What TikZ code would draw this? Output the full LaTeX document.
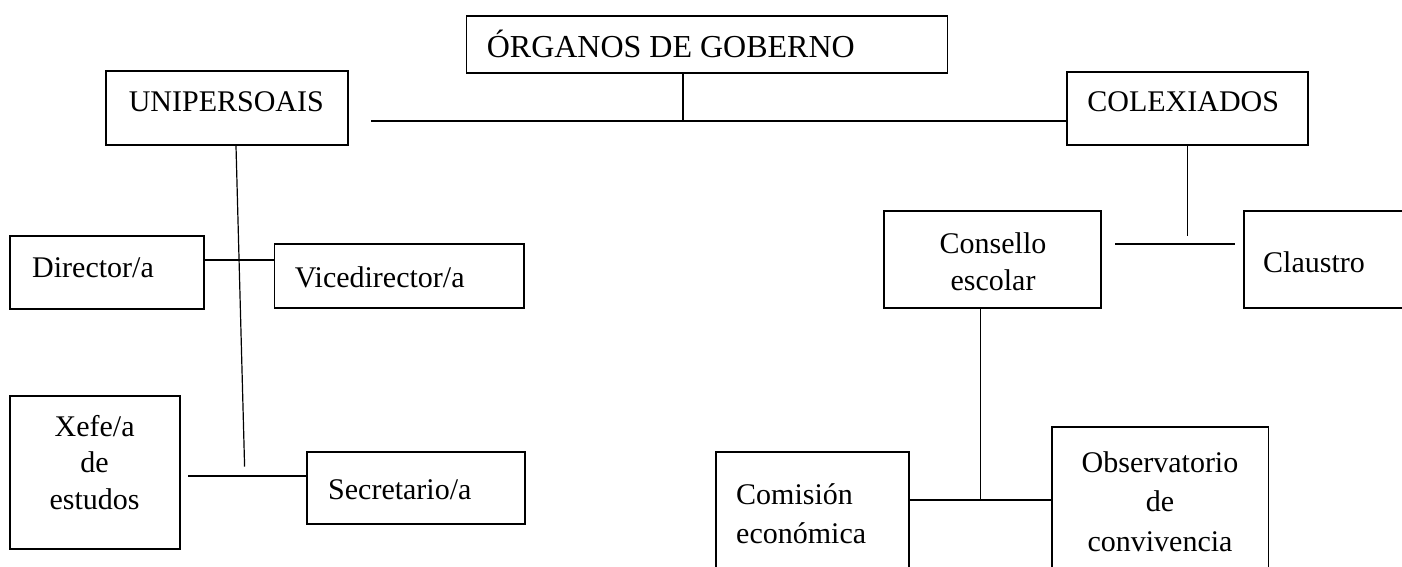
\documentclass[tikz,border=0pt]{standalone}
\usepackage{fontspec}
\setmainfont{Liberation Serif}
\begin{document}
\begin{tikzpicture}[x=1pt,y=-1pt,
  box/.style={draw, line width=1.8pt, rectangle, inner sep=0pt},
  conn/.style={line width=1.7pt},
  thinconn/.style={line width=1.2pt},
  txt/.style={inner sep=0pt, font=\fontsize{30}{36}\selectfont},
  bigtxt/.style={inner sep=0pt, font=\fontsize{32}{38}\selectfont}]
\useasboundingbox (0,0) rectangle (1402,567);
\clip (0,0) rectangle (1402,567);
\fill[white] (0,0) rectangle (1402,567);

% boxes
\node[box, minimum width=481pt, minimum height=57pt] (organos) at (707,44.2) {};
\node[box, minimum width=242pt, minimum height=74pt] (uni) at (227,108) {};
\node[box, minimum width=241pt, minimum height=73.3pt] (col) at (1187.5,108.3) {};
\node[box, minimum width=194pt, minimum height=73pt] (dir) at (107,272.5) {};
\node[box, minimum width=249.2pt, minimum height=63.7pt] (vice) at (399.1,275.9) {};
\node[box, minimum width=170pt, minimum height=152.7pt] (xefe) at (95,472.4) {};
\node[box, minimum width=217.6pt, minimum height=72pt] (sec) at (415.8,487.7) {};
\node[box, minimum width=216.6pt, minimum height=97pt] (cons) at (992.3,259.2) {};
\node[box, minimum width=196pt, minimum height=97pt] (claus) at (1342,259.2) {};
\node[box, minimum width=192.6pt, minimum height=148.3pt] (com) at (812.3,525.85) {};
\node[box, minimum width=216.7pt, minimum height=173pt] (obs) at (1160.15,513.5) {};

% texts
\node[bigtxt, anchor=base west] (organosT) at (486.6,57.3) {ÓRGANOS DE GOBERNO};
\node[txt, anchor=base west] (uniT) at (128.6,111.7) {UNIPERSOAIS};
\node[txt, anchor=base west] (colT) at (1087.2,111.7) {COLEXIADOS};
\node[txt, anchor=base west] (dirT) at (32,277.3) {Director/a};
\node[txt, anchor=base west] (viceT) at (294.6,287.3) {Vicedirector/a};
\node[txt, anchor=base] (xefeT1) at (94.6,436.7) {Xefe/a};
\node[txt, anchor=base] (xefeT2) at (94.6,472.7) {de};
\node[txt, anchor=base] (xefeT3) at (94.6,509.3) {estudos};
\node[txt, anchor=base west] (secT) at (328,499.3) {Secretario/a};
\node[txt, anchor=base] (consT1) at (993,253.3) {Consello};
\node[txt, anchor=base] (consT2) at (993,290) {escolar};
\node[txt, anchor=base west] (clausT) at (1263,272.7) {Claustro};
\node[txt, anchor=base west] (comT1) at (736,504) {Comisión};
\node[txt, anchor=base west] (comT2) at (736,543.3) {económica};
\node[txt, anchor=base] (obsT1) at (1160,472.3) {Observatorio};
\node[txt, anchor=base] (obsT2) at (1160,511.7) {de};
\node[txt, anchor=base] (obsT3) at (1160,551) {convivencia};

% connector points
\coordinate (j1) at (683,120.7);
\coordinate (hL) at (371,120.7);
\coordinate (uend) at (244.6,466.7);
\coordinate (dv) at (0,260);
\coordinate (xs) at (188,475.7);
\coordinate (cb) at (1187.5,236);
\coordinate (cc1) at (1115,244.3);
\coordinate (cc2) at (1235,244.3);
\coordinate (cj) at (980.7,499.7);

% connectors
\draw[thinconn] (j1 |- organos.south) -- (j1);
\draw[conn] (hL) -- (hL -| col.west);
\draw[thinconn] ([xshift=9pt]uni.south) -- (uend);
\draw[conn] (dir.east |- dv) -- (vice.west |- dv);
\draw[conn] (xs) -- (xs -| sec.west);
\draw[thinconn] (col.south) -- (cb);
\draw[conn] (cc1) -- (cc2);
\draw[thinconn] (cj |- cons.south) -- (cj);
\draw[conn] (com.east |- cj) -- (obs.west |- cj);
\end{tikzpicture}
\end{document}
